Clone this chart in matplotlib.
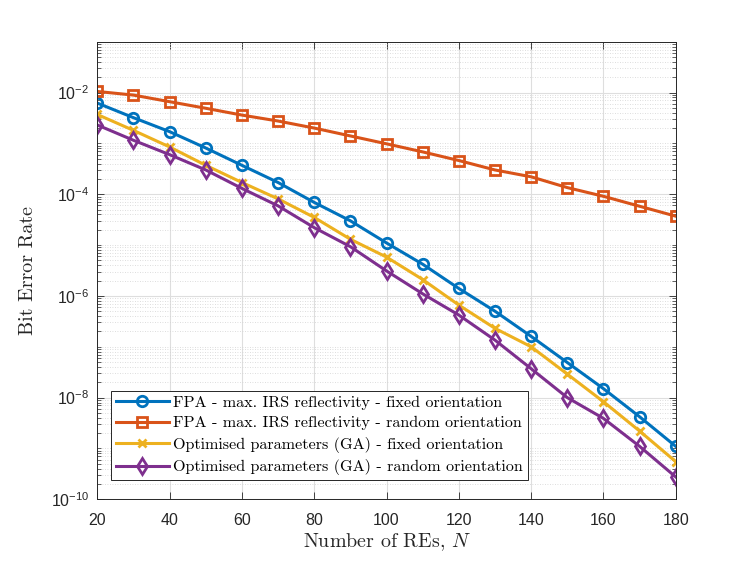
import matplotlib
matplotlib.use("Agg")
import matplotlib.pyplot as plt
from matplotlib.ticker import LogLocator, FixedLocator, NullFormatter
import numpy as np

plt.rcParams['font.family'] = ['Liberation Sans', 'DejaVu Sans']
plt.rcParams['mathtext.fontset'] = 'cm'

n_res = [20, 30, 40, 50, 60, 70, 80, 90, 100, 110, 120, 130, 140, 150, 160, 170, 180]

ber_fpa_fixed = [6.2e-3, 3.2e-3, 1.7e-3, 8.1e-4, 3.7e-4, 1.7e-4, 6.9e-5, 3.0e-5, 1.1e-5,
                 4.2e-6, 1.4e-6, 5.0e-7, 1.6e-7, 4.9e-8, 1.5e-8, 4.2e-9, 1.1e-9]
ber_fpa_random = [1.05e-2, 8.9e-3, 6.6e-3, 4.9e-3, 3.6e-3, 2.75e-3, 2.0e-3, 1.4e-3, 9.8e-4,
                  6.8e-4, 4.6e-4, 3.0e-4, 2.2e-4, 1.35e-4, 9.1e-5, 5.8e-5, 3.7e-5]
ber_ga_fixed = [3.7e-3, 1.8e-3, 8.5e-4, 3.7e-4, 1.7e-4, 8.1e-5, 3.5e-5, 1.3e-5, 5.8e-6,
                2.1e-6, 6.6e-7, 2.3e-7, 1.0e-7, 2.9e-8, 8.3e-9, 2.2e-9, 5.5e-10]
ber_ga_random = [2.3e-3, 1.15e-3, 6.0e-4, 3.0e-4, 1.3e-4, 5.9e-5, 2.2e-5, 9.3e-6, 3.1e-6,
                 1.1e-6, 4.2e-7, 1.35e-7, 3.7e-8, 1.0e-8, 3.9e-9, 1.1e-9, 2.75e-10]

labels = ["FPA - max. IRS reflectivity - fixed orientation",
          "FPA - max. IRS reflectivity - random orientation",
          "Optimised parameters (GA) - fixed orientation",
          "Optimised parameters (GA) - random orientation"]
colors = ["#0072BD", "#D95319", "#EDB120", "#7E2F8E"]
markers = ["o", "s", "x", "d"]
sizes = [7.5, 7, 6, 8.5]

fig = plt.figure(figsize=(7.47, 5.61), dpi=100)
ax = fig.add_axes([0.1303, 0.110, 0.7743, 0.8157])

for ber, lab, c, m, ms in zip([ber_fpa_fixed, ber_fpa_random, ber_ga_fixed, ber_ga_random],
                              labels, colors, markers, sizes):
    ax.semilogy(n_res, ber, color=c, marker=m, markersize=ms, markerfacecolor='none',
                markeredgewidth=2, linewidth=2.2, label=lab)

ax.set_xlim(20, 180)
ax.set_ylim(1e-10, 1e-1)
ax.set_xticks(range(20, 181, 20))
ax.yaxis.set_major_locator(FixedLocator([1e-10, 1e-8, 1e-6, 1e-4, 1e-2]))
ax.yaxis.set_minor_locator(LogLocator(base=10, subs=np.arange(1, 10), numticks=30))
ax.yaxis.set_minor_formatter(NullFormatter())

ax.grid(True, which='major', color='#dedede', linewidth=0.8, linestyle='-')
ax.grid(True, which='minor', axis='y', color='#d2d2d2', linewidth=0.6, linestyle=(0, (1, 2)))
ax.set_axisbelow(True)

ax.tick_params(which='both', direction='in', top=True, right=True, colors='#262626',
               labelsize=11.5, labelcolor='#262626')
ax.tick_params(which='major', length=5, width=0.6)
ax.tick_params(which='minor', length=3, width=0.5)
ax.tick_params(axis='x', which='major', pad=10)
ax.tick_params(axis='y', which='major', pad=6)
for s in ax.spines.values():
    s.set_color('#262626')
    s.set_linewidth(0.7)

ax.set_xlabel(r"Number of REs, $N$", family='cmr10', fontsize=14.4, color='#262626', labelpad=2)
ax.set_ylabel("Bit Error Rate", family='cmr10', fontsize=14.4, color='#262626', labelpad=10)

leg = ax.legend(loc='lower left', bbox_to_anchor=(0.0237, 0.042), borderaxespad=0,
                prop={'family': 'cmr10', 'size': 11.6}, fancybox=False, framealpha=1,
                edgecolor='#262626', handlelength=3.3, borderpad=0.3, labelspacing=0.4,
                handletextpad=0.25)
leg.get_frame().set_linewidth(0.7)

fig.savefig("out.png", dpi=100)
